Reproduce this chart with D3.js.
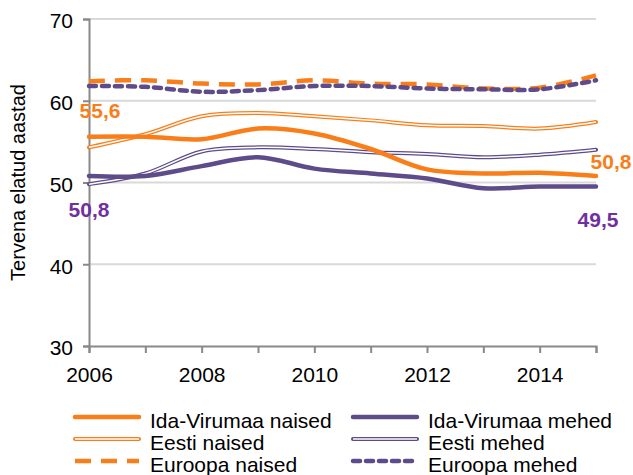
<!DOCTYPE html>
<html>
<head>
<meta charset="utf-8">
<script src="https://cdn.jsdelivr.net/npm/d3@7"></script>
<style>
  body { margin: 0; background: #fff; }
  text { font-family: "Liberation Sans", Arial, sans-serif; }
</style>
</head>
<body>
<div id="chart"></div>
<script>
// Tervena elatud aastad 2006-2015

var years = [2006, 2007, 2008, 2009, 2010, 2011, 2012, 2013, 2014, 2015];

var idaNaised  = [55.6, 55.6, 55.3, 56.6, 56.0, 54.1, 51.6, 51.1, 51.2, 50.8];
var idaMehed   = [50.8, 50.8, 52.0, 53.1, 51.7, 51.1, 50.5, 49.3, 49.5, 49.5];
var eestiNaised = [54.3, 55.9, 58.1, 58.5, 58.1, 57.6, 57.0, 56.9, 56.6, 57.4];
var eestiMehed  = [49.8, 51.1, 53.8, 54.3, 54.1, 53.7, 53.5, 53.1, 53.4, 54.0];
var euroNaised = [62.4, 62.5, 62.1, 62.0, 62.5, 62.1, 62.0, 61.5, 61.6, 63.1];
var euroMehed  = [61.8, 61.7, 61.1, 61.3, 61.8, 61.8, 61.5, 61.4, 61.4, 62.5];

var yTicks = [30, 40, 50, 60, 70];
var xTickLabels = [2006, 2008, 2010, 2012, 2014];

var orange = "#F97E1A";
var purple = "#5E4B8A";
var labelPurple = "#7030A0";

var series = [
  { name: "Ida-Virumaa naised", values: idaNaised, color: orange, style: "solid" },
  { name: "Ida-Virumaa mehed", values: idaMehed, color: purple, style: "solid" },
  { name: "Eesti naised", values: eestiNaised, color: orange, style: "double" },
  { name: "Eesti mehed", values: eestiMehed, color: purple, style: "double" },
  { name: "Euroopa naised", values: euroNaised, color: orange, style: "dash" },
  { name: "Euroopa mehed", values: euroMehed, color: purple, style: "dot" }
];

var svgWidth = 633;
var svgHeight = 475;

var margin = { top: 19, right: 37, bottom: 129, left: 89 };
var width = svgWidth - margin.left - margin.right;
var height = svgHeight - margin.top - margin.bottom;

var svg = d3.select("#chart")
  .append("svg")
  .attr("width", svgWidth)
  .attr("height", svgHeight);

var chartGroup = svg.append("g")
  .attr("transform", `translate(${margin.left}, ${margin.top})`);

var xScale = d3.scaleLinear()
  .domain([2006, 2015])
  .range([0, width]);

var yScale = d3.scaleLinear()
  .domain([30, 70])
  .range([height, 0]);

// gridlines
chartGroup.selectAll(".grid")
  .data(yTicks.slice(1))
  .enter()
  .append("line")
  .attr("x1", 0)
  .attr("x2", width)
  .attr("y1", d => yScale(d))
  .attr("y2", d => yScale(d))
  .attr("stroke", "#d9d9d9")
  .attr("stroke-width", 2);

// axes
var leftAxis = d3.axisLeft(yScale)
  .tickValues(yTicks)
  .tickSize(6)
  .tickPadding(10);

var bottomAxis = d3.axisBottom(xScale)
  .tickValues(years)
  .tickSize(7)
  .tickPadding(14)
  .tickFormat(d => xTickLabels.indexOf(d) >= 0 ? d : "");

var yAxisG = chartGroup.append("g").call(leftAxis);
var xAxisG = chartGroup.append("g")
  .attr("transform", `translate(0, ${height})`)
  .call(bottomAxis);

[yAxisG, xAxisG].forEach(function(g) {
  g.select(".domain").attr("stroke", "#898989").attr("stroke-width", 2);
  g.selectAll(".tick line").attr("stroke", "#898989").attr("stroke-width", 2);
  g.selectAll(".tick text")
    .attr("fill", "#000")
    .style("font-size", "21px")
    .style("font-family", "Liberation Sans, Arial, sans-serif");
});
yAxisG.selectAll(".tick text").attr("dy", "0.42em");

// lines
var line = d3.line()
  .x((d, i) => xScale(years[i]))
  .y(d => yScale(d))
  .curve(d3.curveCatmullRom.alpha(0.5));

function drawSeries(g, s, pathD) {
  if (s.style === "solid") {
    g.append("path").attr("d", pathD).attr("fill", "none")
      .attr("stroke", s.color).attr("stroke-width", 4.5)
      .attr("stroke-linecap", "round");
  } else if (s.style === "double") {
    g.append("path").attr("d", pathD).attr("fill", "none")
      .attr("stroke", s.color).attr("stroke-width", 4)
      .attr("stroke-linecap", "round");
    g.append("path").attr("d", pathD).attr("fill", "none")
      .attr("stroke", "#fff").attr("stroke-width", 1.5);
  } else if (s.style === "dash") {
    g.append("path").attr("d", pathD).attr("fill", "none")
      .attr("stroke", s.color).attr("stroke-width", 4.5)
      .attr("stroke-dasharray", "16,10");
  } else {
    g.append("path").attr("d", pathD).attr("fill", "none")
      .attr("stroke", s.color).attr("stroke-width", 4.5)
      .attr("stroke-dasharray", "7,6")
      .attr("stroke-linecap", "round");
  }
}

var drawOrder = [4, 5, 2, 3, 0, 1];
drawOrder.forEach(function(i) {
  drawSeries(chartGroup.append("g"), series[i], line(series[i].values));
});

// data labels
var labelFont = "Liberation Sans, Arial, sans-serif";
function dataLabel(x, y, txt, color) {
  chartGroup.append("text")
    .attr("x", x)
    .attr("y", y)
    .attr("text-anchor", "middle")
    .attr("fill", color)
    .style("font-size", "21px")
    .style("font-weight", "bold")
    .style("font-family", labelFont)
    .text(txt);
}
var fmt = v => String(v.toFixed(1)).replace(".", ",");
dataLabel(xScale(2006) + 11, yScale(idaNaised[0]) - 19, fmt(idaNaised[0]), orange);
dataLabel(xScale(2006), yScale(idaMehed[0]) + 41, fmt(idaMehed[0]), labelPurple);
dataLabel(xScale(2015) + 15, yScale(idaNaised[9]) - 7, fmt(idaNaised[9]), orange);
dataLabel(xScale(2015) + 2, yScale(idaMehed[9]) + 40, fmt(idaMehed[9]), labelPurple);

// y axis title
svg.append("text")
  .attr("transform", `translate(25, ${margin.top + height / 2}) rotate(-90)`)
  .attr("text-anchor", "middle")
  .style("font-size", "20px")
  .style("font-family", labelFont)
  .text("Tervena elatud aastad");

// legend
var legend = svg.append("g");
var legendCols = [73, 351];
var legendRows = [417, 439, 461];
series.forEach(function(s, i) {
  var cx = legendCols[i % 2];
  var cy = legendRows[Math.floor(i / 2)];
  var g = legend.append("g");
  drawSeries(g, s, `M${cx + 2},${cy}L${cx + 66},${cy}`);
  g.append("text")
    .attr("x", cx + 77)
    .attr("y", cy + 11)
    .style("font-size", "21px")
    .style("font-family", labelFont)
    .text(s.name);
});
</script>
</body>
</html>
